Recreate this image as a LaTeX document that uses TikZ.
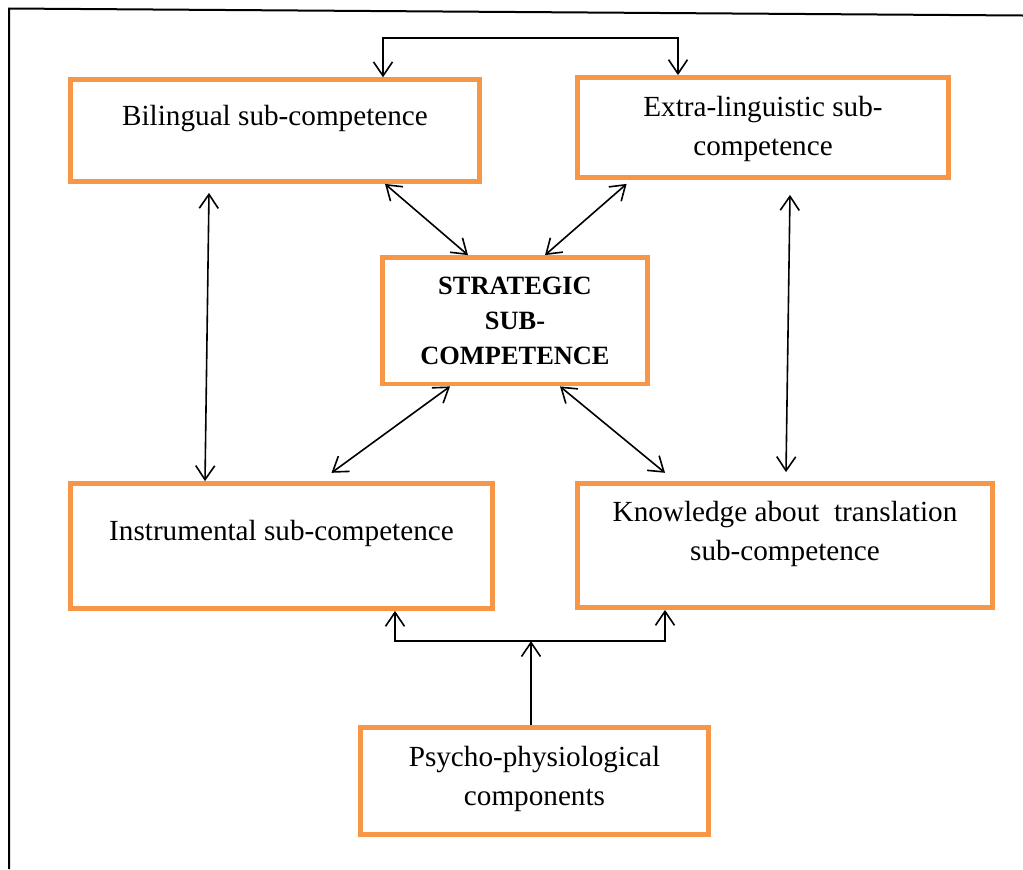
\documentclass[tikz,border=0pt]{standalone}
\usepackage{fontspec}
\setmainfont{Liberation Serif}
\usetikzlibrary{arrows.meta}
\definecolor{boxorange}{HTML}{F79646}
% box text: width, height, first baseline from top, text
\newcommand{\boxtext}[4]{\parbox[c][#2][t]{#1}{\centering\rule{0pt}{#3}#4}}

\begin{document}
\begin{tikzpicture}[x=0.5pt, y=-0.5pt,
        >={Straight Barb[length=7pt,width=9.5pt]},
        box/.style={draw=boxorange, line width=2.4pt, inner sep=0pt,
            font=\fontsize{14.6}{19.5}\selectfont},
        bigbox/.style={box, font=\bfseries\fontsize{13.2}{17.5}\selectfont},
        link/.style={line width=0.8pt}]
        \useasboundingbox (0,0) rectangle (1023,869);
        \draw[line width=1pt] (9,869) -- (9,8.5) -- (1023,15.5);

        \node[box] (bil) at (275,130.6) {\boxtext{204.5pt}{50.9pt}{22.65pt}{Bilingual sub-competence}};
        \node[box] (ext) at (763,127.5) {\boxtext{185.5pt}{50pt}{19.6pt}{Extra-linguistic sub-\\competence}};
        \node[bigbox] (str) at (515,320.75) {\boxtext{132.5pt}{63.25pt}{18.25pt}{STRATEGIC\\SUB-\\COMPETENCE}};
        \node[box] (ins) at (281.5,546) {\boxtext{211pt}{62.5pt}{28.6pt}{Instrumental sub-competence}};
        \node[box] (kno) at (785,545.5) {\boxtext{207.5pt}{62pt}{19.1pt}{Knowledge about\ \ translation\\sub-competence}};
        \node[box] (psy) at (534.5,781) {\boxtext{174pt}{53.5pt}{19.6pt}{Psycho-physiological\\components}};

        \draw[link,<->] ([xshift=54pt]bil.north) -- ++(0,-39.3) -| ([xshift=-42.5pt]ext.north);
        \draw[link,<->] ([xshift=-33pt,yshift=-4.5pt]bil.south) -- ([xshift=-38.25pt]ins.north);
        \draw[link,<->] ([xshift=13.5pt,yshift=-7.5pt]ext.south) -- ([xshift=0.5pt,yshift=4.5pt]kno.north);
        \draw[link,<->] ([xshift=55pt]bil.south) -- ([xshift=-23.5pt]str.north);
        \draw[link,<->] ([xshift=-68.2pt,yshift=-2pt]ext.south) -- ([xshift=15pt]str.north);
        \draw[link,<->] ([xshift=-32.5pt]str.south) -- ([xshift=25pt,yshift=4.15pt]ins.north);
        \draw[link,<->] ([xshift=22.5pt]str.south) -- ([xshift=-60pt,yshift=4.15pt]kno.north);

        \coordinate (fork) at ([xshift=-1.75pt,yshift=42pt]psy.north);
        \draw[link,->] ([xshift=-1.75pt]psy.north) -- (fork);
        \draw[link,<->] ([xshift=56.75pt]ins.south) |- (fork) -| ([xshift=-60pt]kno.south);
    \end{tikzpicture}
\end{document}
